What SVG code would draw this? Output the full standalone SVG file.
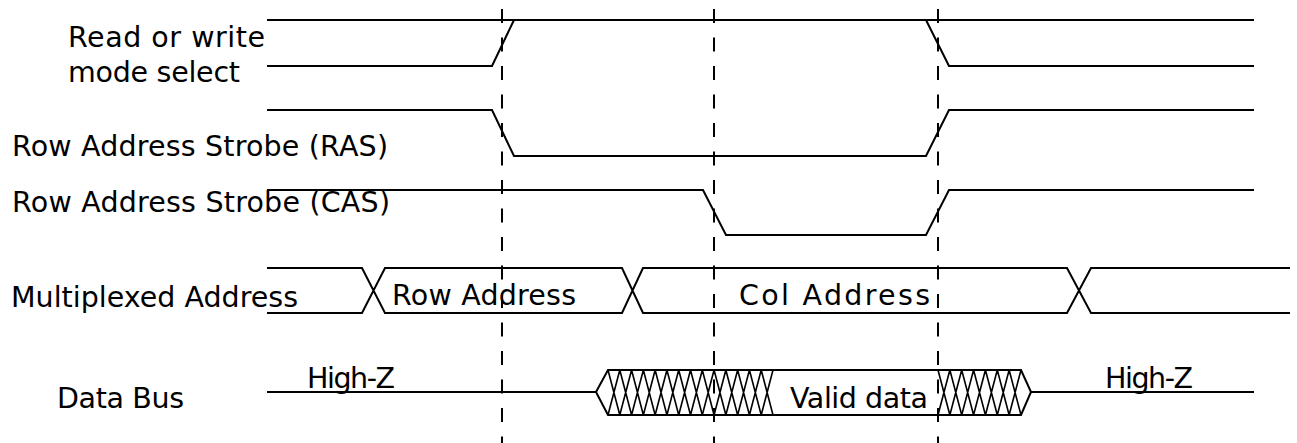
<svg xmlns="http://www.w3.org/2000/svg" width="1297" height="443" viewBox="0 0 1297 443">
<style>
.sig{fill:none;stroke:#000;stroke-width:2;stroke-linejoin:miter}
.hatch{fill:none;stroke:#000;stroke-width:1.6}
.dash{fill:none;stroke:#000;stroke-width:2;stroke-dasharray:14 14.5}
text{font-family:"DejaVu Sans","Liberation Sans",sans-serif;font-size:28.5px;fill:#000}
</style>
<rect width="1297" height="443" fill="#fff"/>
<g id="labels">
<text x="68" y="47" textLength="197" lengthAdjust="spacing">Read or write</text>
<text x="68" y="82" textLength="172" lengthAdjust="spacing">mode select</text>
<text x="12" y="156" textLength="376" lengthAdjust="spacing">Row Address Strobe (RAS)</text>
<text x="12" y="212" textLength="378" lengthAdjust="spacing">Row Address Strobe (CAS)</text>
<text x="11" y="307" textLength="287" lengthAdjust="spacing">Multiplexed Address</text>
<text x="57" y="408" textLength="127" lengthAdjust="spacing">Data Bus</text>
</g>
<g id="rw">
<path class="sig" d="M267,20 H1254 M267,66 H492 L514,20 M926,20 L949,66 H1254"/>
</g>
<g id="ras">
<path class="sig" d="M267,110 H492 L514,156 H926 L949,110 H1254"/>
</g>
<g id="cas">
<path class="sig" d="M267,190 H703 L726,235 H926 L949,190 H1254"/>
</g>
<g id="addr">
<path class="sig" d="M267,268 H362 L385,313 H622 L643,268 H1067 L1091,313 H1290 M267,313 H362 L385,268 H622 L643,313 H1067 L1091,268 H1290"/>
<text x="392" y="305" textLength="184" lengthAdjust="spacing">Row Address</text>
<text x="739" y="305" textLength="191" lengthAdjust="spacing">Col Address</text>
</g>
<g id="databus">
<path class="sig" d="M267,392 H596 M596,392 L608,370 H1021 L1031,392 L1021,415 H608 Z M1031,392 H1254"/>
<path class="hatch" d="M608,370 L619.79,415 M619.79,370 L608,415 M619.79,370 L631.57,415 M631.57,370 L619.79,415 M631.57,370 L643.36,415 M643.36,370 L631.57,415 M643.36,370 L655.14,415 M655.14,370 L643.36,415 M655.14,370 L666.93,415 M666.93,370 L655.14,415 M666.93,370 L678.71,415 M678.71,370 L666.93,415 M678.71,370 L690.5,415 M690.5,370 L678.71,415 M690.5,370 L702.29,415 M702.29,370 L690.5,415 M702.29,370 L714.07,415 M714.07,370 L702.29,415 M714.07,370 L725.86,415 M725.86,370 L714.07,415 M725.86,370 L737.64,415 M737.64,370 L725.86,415 M737.64,370 L749.43,415 M749.43,370 L737.64,415 M749.43,370 L761.21,415 M761.21,370 L749.43,415 M761.21,370 L773,415 M773,370 L761.21,415 M938,370 L949.86,415 M949.86,370 L938,415 M949.86,370 L961.71,415 M961.71,370 L949.86,415 M961.71,370 L973.57,415 M973.57,370 L961.71,415 M973.57,370 L985.43,415 M985.43,370 L973.57,415 M985.43,370 L997.29,415 M997.29,370 L985.43,415 M997.29,370 L1009.14,415 M1009.14,370 L997.29,415 M1009.14,370 L1021,415 M1021,370 L1009.14,415"/>
<text x="307" y="388" textLength="88" lengthAdjust="spacing">High-Z</text>
<text x="790" y="408" textLength="138" lengthAdjust="spacing">Valid data</text>
<text x="1105" y="388" textLength="88" lengthAdjust="spacing">High-Z</text>
</g>
<g id="connectors">
<line class="dash" x1="502" y1="9" x2="502" y2="443"/>
<line class="dash" x1="714" y1="9" x2="714" y2="443"/>
<line class="dash" x1="938" y1="9" x2="938" y2="443"/>
</g>
</svg>
